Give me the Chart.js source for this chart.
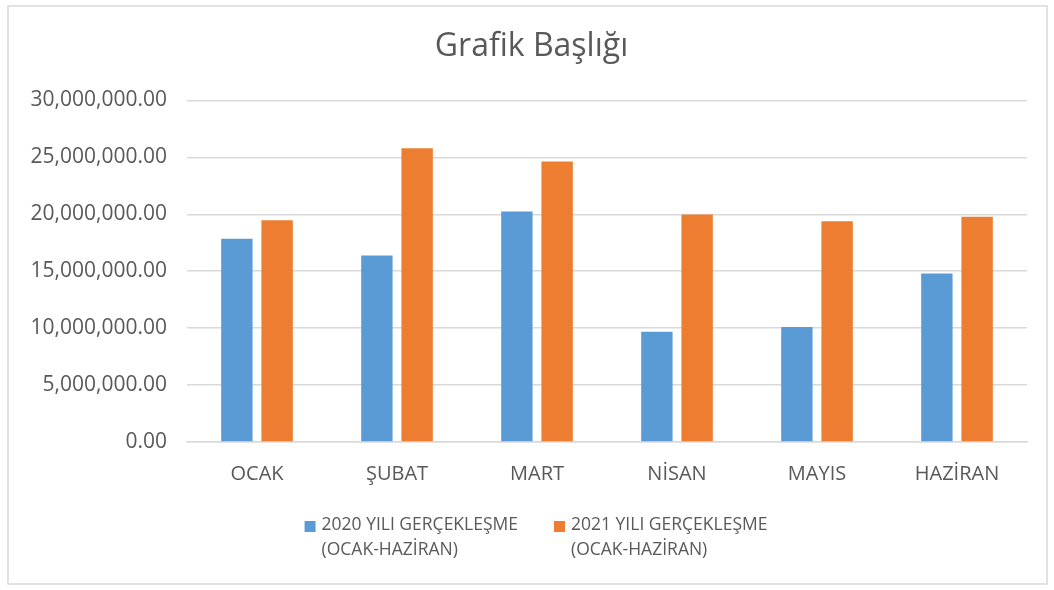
<!DOCTYPE html>
<html>
<head>
<meta charset="utf-8">
<script src="https://cdn.jsdelivr.net/npm/chart.js@4"></script>
<style>
  html, body { margin: 0; padding: 0; background: #fff; }
  #wrap { position: absolute; left: 0; top: 0; width: 1054px; height: 590px; }
</style>
</head>
<body>
<div id="wrap"><canvas id="c"></canvas></div>
<script>
const categories = ['OCAK', 'ŞUBAT', 'MART', 'NİSAN', 'MAYIS', 'HAZİRAN'];
const series2020 = [17860000, 16370000, 20250000, 9690000, 10100000, 14800000];
const series2021 = [19470000, 25800000, 24630000, 19990000, 19380000, 19790000];
const seriesNames = [
  ['2020 YILI GERÇEKLEŞME', '(OCAK-HAZİRAN)'],
  ['2021 YILI GERÇEKLEŞME', '(OCAK-HAZİRAN)']
];
const chartTitle = 'Grafik Başlığı';

const TEXT = '#595959';
const GRID = '#d9d9d9';
const FONT = "'Open Sans', 'Noto Sans', sans-serif";

const frame = {
  id: 'frame',
  beforeDraw(chart) {
    const ctx = chart.ctx;
    ctx.save();
    ctx.fillStyle = '#fff';
    ctx.fillRect(0, 0, chart.width, chart.height);
    ctx.strokeStyle = GRID;
    ctx.lineWidth = 1.5;
    ctx.strokeRect(8, 6, 1039, 578);
    ctx.restore();
  }
};

// shift the title block so it is centred like the reference
const titleShift = {
  id: 'titleShift',
  afterLayout(chart) {
    if (chart.titleBlock) chart.titleBlock.left += 26;
  }
};

// Two-line legend drawn below the x axis
const twoLineLegend = {
  id: 'twoLineLegend',
  afterDraw(chart) {
    const ctx = chart.ctx;
    const fontSize = 17.5, lineH = 25, box = 11, textGap = 6, itemGap = 36;
    ctx.save();
    ctx.font = fontSize + 'px ' + FONT;
    ctx.textBaseline = 'middle';
    ctx.textAlign = 'left';
    const items = chart.data.datasets.map((ds, i) => {
      const lines = seriesNames[i];
      const w = Math.max(...lines.map(l => ctx.measureText(l).width));
      return { lines, color: ds.backgroundColor, w: box + textGap + w };
    });
    const total = items.reduce((s, it) => s + it.w, 0) + itemGap * (items.length - 1);
    let x = chart.width / 2 + 9 - total / 2;
    const yMid = chart.scales.x.bottom + 19.5;
    items.forEach(it => {
      ctx.fillStyle = it.color;
      ctx.fillRect(x, yMid - box / 2 + 1, box, box);
      ctx.fillStyle = TEXT;
      it.lines.forEach((l, k) => ctx.fillText(l, x + box + textGap, yMid + k * lineH));
      x += it.w + itemGap;
    });
    ctx.restore();
  }
};

new Chart(document.getElementById('c'), {
  type: 'bar',
  data: {
    labels: categories,
    datasets: [
      { label: seriesNames[0].join(' '), data: series2020, backgroundColor: '#5B9BD5',
        categoryPercentage: 0.575, barPercentage: 0.78 },
      { label: seriesNames[1].join(' '), data: series2021, backgroundColor: '#ED7D31',
        categoryPercentage: 0.575, barPercentage: 0.78 }
    ]
  },
  plugins: [frame, titleShift, twoLineLegend],
  options: {
    responsive: true,
    maintainAspectRatio: false,
    animation: false,
    layout: { padding: { left: 10, right: 27, top: 12, bottom: 84 } },
    plugins: {
      title: {
        display: true,
        text: chartTitle,
        color: TEXT,
        font: { family: FONT, size: 32, weight: 'normal', lineHeight: 1.2 },
        padding: { top: 16, bottom: 34 }
      },
      legend: { display: false },
      tooltip: { enabled: false }
    },
    scales: {
      x: {
        grid: { display: false, drawTicks: false },
        border: { display: true, color: GRID, width: 1.5 },
        ticks: { color: TEXT, font: { family: FONT, size: 20 }, padding: 20 },
        afterFit(scale) { scale.height = 64; }
      },
      y: {
        min: 0,
        max: 30000000,
        grid: { color: GRID, lineWidth: 1.5, drawTicks: false },
        border: { display: false },
        ticks: {
          stepSize: 5000000,
          color: TEXT,
          font: { family: FONT, size: 21 },
          padding: 20,
          callback: v => Number(v).toLocaleString('en-US', { minimumFractionDigits: 2, maximumFractionDigits: 2 })
        },
        afterFit(scale) { scale.width = 177; }
      }
    }
  }
});
</script>
</body>
</html>
